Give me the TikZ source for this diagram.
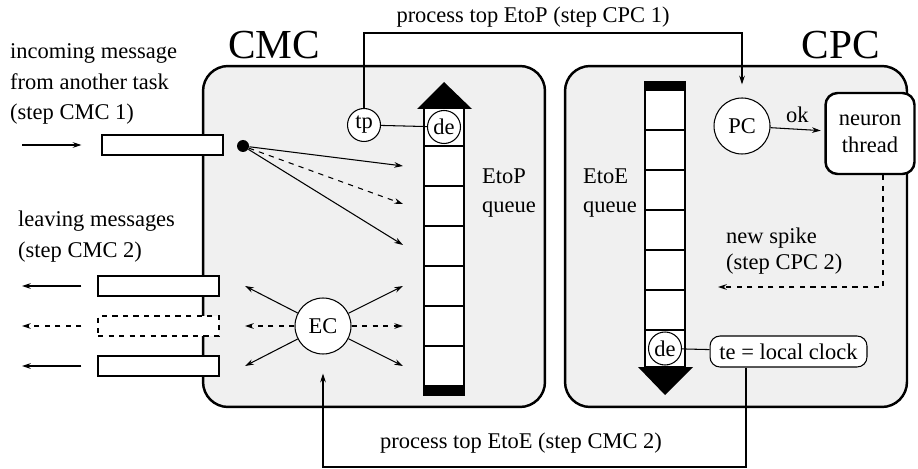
\documentclass[tikz,border=0pt]{standalone}
\usepackage{fontspec}
\setmainfont{Liberation Serif}
\usepackage{tikz}
\usetikzlibrary{positioning, arrows.meta}
\definecolor{procgray}{gray}{0.94}
\tikzset{process/.style={
        draw,
        rectangle,
        line width=1.4pt,
        rounded corners=0.5cm,
        fill=procgray,
        minimum width=6.84cm,
        minimum height=6.82cm
}}
\tikzset{bigname/.style={
        inner sep=0pt,
        font=\fontsize{23.5}{26}\selectfont
}}
\tikzset{slot/.style={
        draw,
        rectangle,
        line width=0.9pt,
        fill=white,
        inner sep=0pt,
        minimum width=0.8cm,
        minimum height=0.8cm
}}
\tikzset{marker/.style={
        draw,
        circle,
        line width=0.6pt,
        fill=white,
        inner sep=0pt,
        minimum size=0.66cm
}}
\tikzset{controller/.style={
        draw,
        circle,
        line width=0.6pt,
        fill=white,
        inner sep=0pt,
        minimum size=1.12cm
}}
\tikzset{message/.style={
        draw,
        rectangle,
        line width=0.6pt,
        fill=white,
        inner sep=0pt,
        minimum width=2.42cm,
        minimum height=0.4cm
}}
\tikzset{threadbox/.style={
        draw,
        rectangle,
        rounded corners=0.24cm,
        line width=1.4pt,
        fill=white,
        align=center,
        inner sep=0pt,
        minimum width=1.78cm,
        minimum height=1.62cm,
        font=\fontsize{12.8}{15.3}\selectfont
}}
\tikzset{clockbox/.style={
        draw,
        rectangle,
        rounded corners=0.2cm,
        line width=0.6pt,
        fill=white,
        inner sep=0pt,
        minimum width=3.14cm,
        minimum height=0.62cm
}}
\tikzset{junction/.style={circle, fill, inner sep=0pt, minimum size=0.24cm}}
\tikzset{flowedge/.style={draw, line width=0.6pt, -{Stealth[length=5pt,width=3.2pt]}}}
\tikzset{plainedge/.style={draw, line width=0.6pt}}

\begin{document}
\begin{tikzpicture}[x=0.02cm, y=-0.02cm, node distance=0.1cm, every node/.style={font=\fontsize{12.8}{17.6}\selectfont}]
\useasboundingbox (0,0) rectangle (918,469);

% CMC and CPC
\node[process] (cmc) at (374,236.5) {};
\node[process] (cpc) at (736,236.5) {};
\node[bigname] (cmcname) at (274,45) {CMC};
\node[bigname] (cpcname) at (841,45) {CPC};

% EtoP queue
\node[slot, minimum height=0.76cm] (p0) at (444,127) {};
\foreach \i in {1,...,6}
    \node[slot] (p\i) at (444,126+40*\i) {};
\node[slot, fill=black, minimum height=0.16cm] (pend) at (444,391) {};
\fill (417,109) -- (444,82) -- (472,109) -- cycle;
\node[anchor=west, align=left, font=\fontsize{12.8}{17}\selectfont] (etopname) at (476,193) {EtoP\\queue};

% EtoE queue
\node[slot, fill=black, minimum height=0.16cm] (eend) at (665,86) {};
\foreach \i in {1,...,6}
    \node[slot] (e\i) at (665,70+40*\i) {};
\node[slot, minimum height=0.74cm] (e7) at (665,348.5) {};
\fill (638,367) -- (665,395) -- (693,367) -- cycle;
\node[anchor=west, align=left, font=\fontsize{12.8}{17}\selectfont] (etoename) at (577,193) {EtoE\\queue};

% controllers
\node[marker] (dep) at (p0) {de};
\node[marker] (tp) at (364,125) {tp};
\node[marker] (dee) at (e7) {de};
\node[controller] (pc) at (742,126) {PC};
\node[controller] (ec) at (323,326) {EC};
\node[threadbox] (nt) at (870,133.5) {neuron\\thread};
\node[clockbox] (te) at (788.5,351.5) {te = local clock};

\draw[plainedge] (tp) -- (dep);
\draw[plainedge] (dee) -- (te);
\draw[flowedge, shorten >=2pt] (pc) -- node[above=0pt] (ok) {ok} (nt);

% messages in and out
\node[anchor=west, align=left] (inname) at (4,84) {incoming message\\from another task\\(step CMC 1)};
\node[anchor=west, align=left] (outname) at (12,237) {leaving messages\\(step CMC 2)};
\node[message] (inbox) at (162.5,145) {};
\node[message] (lv1) at (158.5,286) {};
\node[message, dashed] (lv2) at (158.5,326) {};
\node[message] (lv3) at (158.5,366) {};
\coordinate (src) at (22,145);
\draw[flowedge, shorten >=0.4cm] (src) -- (inbox);
\foreach \i in {1,2,3}
    \coordinate (out\i) at (22,246+40*\i);
\draw[flowedge, shorten <=0.32cm] (lv1) -- (out1);
\draw[flowedge, dashed, shorten <=0.32cm] (lv2) -- (out2);
\draw[flowedge, shorten <=0.32cm] (lv3) -- (out3);

% incoming message spread into EtoP
\node[junction] (hub) at (243,146) {};
\coordinate (q1) at (403,166);
\coordinate (q2) at (403,204);
\coordinate (q3) at (403,245);
\draw[flowedge] (hub) -- (q1);
\draw[flowedge, dashed] (hub) -- (q2);
\draw[flowedge] (hub) -- (q3);

% EC sends spikes
\foreach \i in {1,2,3} {
    \coordinate (ecw\i) at (245,246+40*\i);
    \coordinate (ece\i) at (403,246+40*\i);
}
\draw[flowedge] (ec) -- (ecw1);
\draw[flowedge, dashed] (ec) -- (ecw2);
\draw[flowedge] (ec) -- (ecw3);
\draw[flowedge] (ec) -- (ece1);
\draw[flowedge, dashed] (ec) -- (ece2);
\draw[flowedge] (ec) -- (ece3);

% steps between the two
\coordinate (tbend) at (553,33);
\draw[flowedge, shorten >=0.26cm] (tp) |- (tbend) -| (pc);
\node (toplabel) at (533,17) {process top EtoP (step CPC 1)};
\coordinate (bbend) at (521,467);
\draw[flowedge, shorten >=0.38cm] ([xshift=-0.85cm]te.south) |- (bbend) -| (ec);
\node (botlabel) at (521,443) {process top EtoE (step CMC 2)};

% new spike
\coordinate (spk) at (718,287);
\draw[flowedge, dashed] ([xshift=0.26cm]nt.south) |- (spk);
\node[anchor=west, align=left, font=\fontsize{12.8}{14.7}\selectfont] (spkname) at (720,251) {new spike\\(step CPC 2)};
\end{tikzpicture}
\end{document}
